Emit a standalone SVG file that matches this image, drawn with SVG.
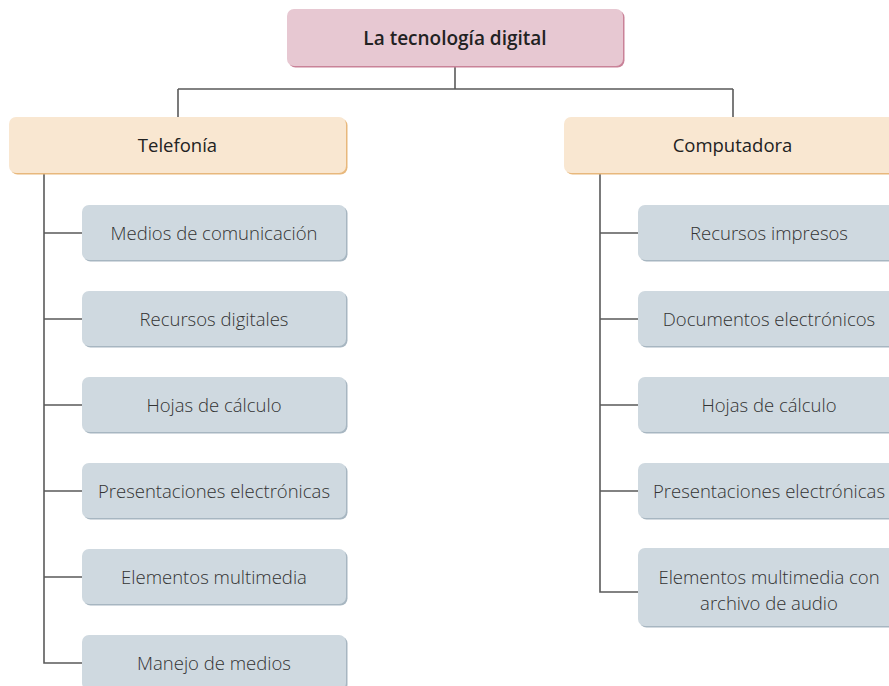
<svg xmlns="http://www.w3.org/2000/svg" width="889" height="686" viewBox="0 0 889 686">
<style>
  .conn { fill: none; stroke: #5a5a5a; stroke-width: 1.6; }
  .root { fill: #e7c8d2; }
  .rootsh { fill: #c98298; }
  .cat { fill: #f9e7d1; }
  .catsh { fill: #e8b87c; }
  .leaf { fill: #cfd9e0; }
  .leafsh { fill: #a7b6c1; }
  text { font-family: "Open Sans", "Noto Sans", "DejaVu Sans", sans-serif; text-anchor: middle; fill: #2b2b2b; }
  .tleaf { font-size: 18.5px; font-weight: 300; fill: #333; }
  .tcat { font-size: 18.5px; font-weight: 400; fill: #222; }
  .troot { font-size: 19px; font-weight: 600; fill: #222; }
</style>
<rect width="889" height="686" fill="#ffffff"/>
<g id="connectors">
  <path class="conn" d="M455 66 V89 M178 89 H733 M178 89 V117 M733 89 V117"/>
  <path class="conn" d="M44 173 V663 H82 M44 233 H82 M44 319 H82 M44 405 H82 M44 491 H82 M44 577 H82"/>
  <path class="conn" d="M600 173 V592 H638 M600 233 H638 M600 319 H638 M600 405 H638 M600 491 H638"/>
</g>
<g id="root">
  <rect class="rootsh" x="288.5" y="10.5" width="336" height="57" rx="7"/>
  <rect class="root" x="287" y="9" width="336" height="57" rx="7"/>
  <text class="troot" x="455" y="45">La tecnología digital</text>
</g>
<g id="telefonia">
  <rect class="catsh" x="10.5" y="118.5" width="337" height="56" rx="7"/>
  <rect class="cat" x="9" y="117" width="337" height="56" rx="7"/>
  <text class="tcat" x="177.5" y="152">Telefonía</text>
</g>
<g id="computadora">
  <rect class="catsh" x="565.5" y="118.5" width="337" height="56" rx="7"/>
  <rect class="cat" x="564" y="117" width="337" height="56" rx="7"/>
  <text class="tcat" x="732.5" y="152">Computadora</text>
</g>
<g id="t1">
  <rect class="leafsh" x="83.5" y="206.5" width="264" height="55" rx="7"/>
  <rect class="leaf" x="82" y="205" width="264" height="55" rx="7"/>
  <text class="tleaf" x="214" y="240">Medios de comunicación</text>
</g>
<g id="t2">
  <rect class="leafsh" x="83.5" y="292.5" width="264" height="55" rx="7"/>
  <rect class="leaf" x="82" y="291" width="264" height="55" rx="7"/>
  <text class="tleaf" x="214" y="326">Recursos digitales</text>
</g>
<g id="t3">
  <rect class="leafsh" x="83.5" y="378.5" width="264" height="55" rx="7"/>
  <rect class="leaf" x="82" y="377" width="264" height="55" rx="7"/>
  <text class="tleaf" x="214" y="412">Hojas de cálculo</text>
</g>
<g id="t4">
  <rect class="leafsh" x="83.5" y="464.5" width="264" height="55" rx="7"/>
  <rect class="leaf" x="82" y="463" width="264" height="55" rx="7"/>
  <text class="tleaf" x="214" y="498">Presentaciones electrónicas</text>
</g>
<g id="t5">
  <rect class="leafsh" x="83.5" y="550.5" width="264" height="55" rx="7"/>
  <rect class="leaf" x="82" y="549" width="264" height="55" rx="7"/>
  <text class="tleaf" x="214" y="584">Elementos multimedia</text>
</g>
<g id="t6">
  <rect class="leafsh" x="83.5" y="636.5" width="264" height="55" rx="7"/>
  <rect class="leaf" x="82" y="635" width="264" height="55" rx="7"/>
  <text class="tleaf" x="214" y="670">Manejo de medios</text>
</g>
<g id="c1">
  <rect class="leafsh" x="639.5" y="206.5" width="264" height="55" rx="7"/>
  <rect class="leaf" x="638" y="205" width="264" height="55" rx="7"/>
  <text class="tleaf" x="769" y="240">Recursos impresos</text>
</g>
<g id="c2">
  <rect class="leafsh" x="639.5" y="292.5" width="264" height="55" rx="7"/>
  <rect class="leaf" x="638" y="291" width="264" height="55" rx="7"/>
  <text class="tleaf" x="769" y="326">Documentos electrónicos</text>
</g>
<g id="c3">
  <rect class="leafsh" x="639.5" y="378.5" width="264" height="55" rx="7"/>
  <rect class="leaf" x="638" y="377" width="264" height="55" rx="7"/>
  <text class="tleaf" x="769" y="412">Hojas de cálculo</text>
</g>
<g id="c4">
  <rect class="leafsh" x="639.5" y="464.5" width="264" height="55" rx="7"/>
  <rect class="leaf" x="638" y="463" width="264" height="55" rx="7"/>
  <text class="tleaf" x="769" y="498">Presentaciones electrónicas</text>
</g>
<g id="c5">
  <rect class="leafsh" x="639.5" y="549.5" width="264" height="78" rx="7"/>
  <rect class="leaf" x="638" y="548" width="264" height="78" rx="7"/>
  <text class="tleaf" x="769" y="584">Elementos multimedia con</text>
  <text class="tleaf" x="769" y="610">archivo de audio</text>
</g>
</svg>
